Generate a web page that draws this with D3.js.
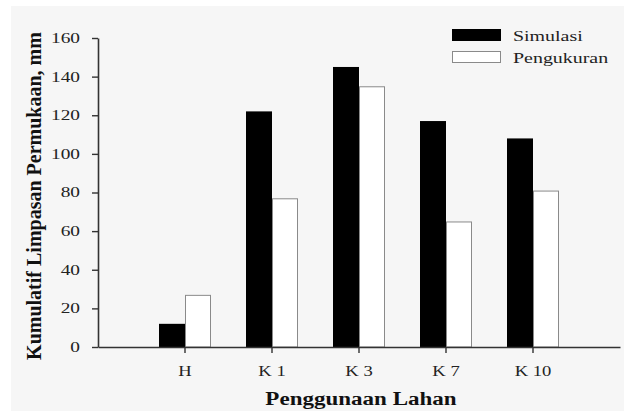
<!DOCTYPE html>
<html>
<head>
<meta charset="utf-8">
<script src="https://cdn.jsdelivr.net/npm/d3@7"></script>
<style>
  html, body { margin: 0; padding: 0; background: #ffffff; }
  svg { display: block; font-family: "Liberation Serif", "Times New Roman", serif; }
</style>
</head>
<body>
<svg id="chart" width="624" height="411"></svg>
<script>
// ---- data ----
const categories = ["H", "K 1", "K 3", "K 7", "K 10"];
const seriesNames = ["Simulasi", "Pengukuran"];
const simulasi = [12, 122, 145, 117, 108];
const pengukuran = [27, 77, 135, 65, 81];
const yTicks = [0, 20, 40, 60, 80, 100, 120, 140, 160];
const xTitle = "Penggunaan Lahan";
const yTitle = "Kumulatif Limpasan Permukaan, mm";

const seriesValues = [simulasi, pengukuran];
const fills = ["#000000", "#ffffff"];
const strokes = ["#000000", "#8a8a8a"];
const SX = 1.33; // horizontal stretch of the original image text
const FONT = "'Liberation Serif', 'Times New Roman', serif";

const svg = d3.select("#chart");

// background panel
svg.append("rect").attr("x", 11).attr("y", 6).attr("width", 613).attr("height", 405).attr("fill", "#f6f6f6");

const x = d3.scaleBand().domain(categories).range([98, 620]).paddingInner(0).paddingOuter(0.5);
const y = d3.scaleLinear().domain([0, 160]).range([347, 38]);
const xSub = d3.scaleBand().domain(seriesNames).range([-26, 26]);

function stretchText(sel, sx) {
  sel.each(function() {
    const t = d3.select(this);
    const tx = +t.attr("x") || 0, ty = +t.attr("y") || 0;
    t.attr("transform", `translate(${tx},${ty}) scale(${sx},1) translate(${-tx},${-ty})`);
  });
}

// bars
const rows = categories.map((c, i) => ({ c, vals: seriesValues.map((arr, s) => ({ s, name: seriesNames[s], v: arr[i] })) }));
const groups = svg.append("g").selectAll("g").data(rows).join("g")
  .attr("transform", d => `translate(${x(d.c) + x.bandwidth() / 2},0)`);
groups.selectAll("rect").data(d => d.vals).join("rect")
  .attr("x", d => xSub(d.name) + (d.s === 1 ? 0.5 : 0))
  .attr("y", d => y(d.v) + (d.s === 1 ? 0.5 : 0))
  .attr("width", d => xSub.bandwidth() - (d.s === 1 ? 1 : 0))
  .attr("height", d => y(0) - y(d.v) - (d.s === 1 ? 0.5 : 0))
  .attr("fill", d => fills[d.s])
  .attr("stroke", d => d.s === 1 ? strokes[1] : "none")
  .attr("stroke-width", 1);

// y axis
const yAxis = svg.append("g").attr("transform", "translate(98,0)")
  .call(d3.axisLeft(y).tickValues(yTicks).tickSize(6).tickPadding(12).tickSizeOuter(0));
yAxis.attr("font-family", FONT);
yAxis.select(".domain").attr("stroke", "#333").attr("stroke-width", 1.6);
yAxis.selectAll(".tick line").attr("stroke", "#333").attr("stroke-width", 1.4);
yAxis.selectAll(".tick text").attr("font-size", 14).attr("fill", "#222")
  .attr("font-family", FONT).call(stretchText, 1.38);

// x axis
const xAxis = svg.append("g").attr("transform", "translate(0,347)")
  .call(d3.axisBottom(x).tickSize(6).tickPadding(13).tickSizeOuter(0));
xAxis.attr("font-family", FONT);
xAxis.select(".domain").attr("stroke", "#333").attr("stroke-width", 1.6);
xAxis.selectAll(".tick line").attr("stroke", "#333").attr("stroke-width", 1.4);
xAxis.selectAll(".tick text").attr("font-size", 14).attr("fill", "#222")
  .attr("font-family", FONT).call(stretchText, SX);

// axis titles
svg.append("text").attr("x", 361).attr("y", 405).attr("text-anchor", "middle")
  .attr("font-family", FONT)
  .attr("font-size", 18).attr("font-weight", "bold").attr("fill", "#111").text(xTitle)
  .call(stretchText, 1.28);
svg.append("text").attr("transform", "translate(41,196) rotate(-90)").attr("text-anchor", "middle")
  .attr("font-family", FONT)
  .attr("font-size", 20).attr("font-weight", "bold").attr("fill", "#111").text(yTitle);

// legend
const legend = svg.append("g");
seriesNames.forEach((name, i) => {
  const ly = 29 + i * 22;
  legend.append("rect").attr("x", 452 + (i ? 0.5 : 0)).attr("y", ly + (i ? 0.5 : 0))
    .attr("width", 49 - (i ? 1 : 0)).attr("height", 12 - (i ? 1 : 0))
    .attr("fill", fills[i]).attr("stroke", i ? strokes[1] : "none");
  legend.append("text").attr("x", 513).attr("y", ly + 12).attr("font-size", 15)
    .attr("font-family", FONT)
    .attr("fill", "#222").text(name).call(stretchText, SX);
});
</script>
</body>
</html>
